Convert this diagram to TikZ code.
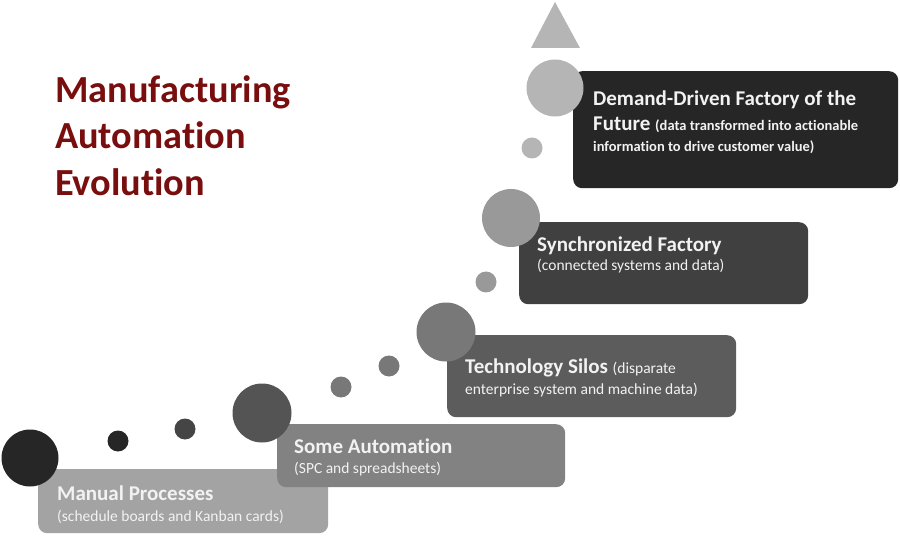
\documentclass[tikz,border=0pt]{standalone}
\usepackage{fontspec}
\setmainfont{Carlito}[Ligatures=NoCommon]
\usetikzlibrary{positioning}
\definecolor{titlered}{RGB}{120,14,14}
\definecolor{boxtext}{RGB}{242,242,242}
\newcommand{\subsize}{\fontsize{15.5}{19}\selectfont}
\newcommand{\smallbold}{\bfseries\fontsize{14.5}{18}\selectfont}

\begin{document}
\begin{tikzpicture}[x=1pt,y=-1pt,
    stagebox/.style={rounded corners=9pt,inner sep=0,anchor=north west},
    dot/.style={circle,inner sep=0},
    hd/.style={inner sep=0,anchor=base west,text=boxtext,font=\bfseries\fontsize{21}{25}\selectfont},
    sb/.style={inner sep=0,anchor=base west,text=boxtext,font=\subsize},
    ttl/.style={inner sep=0,anchor=base west,text=titlered,font=\bfseries\fontsize{38.3}{46}\selectfont}]
    \useasboundingbox (0,0) rectangle (900,540);
    % title
    \node[ttl] (ttla) at (55,103) {Manufacturing};
    \node[ttl] (ttlb) at (55,149) {Automation};
    \node[ttl] (ttlc) at (55,196) {Evolution};
    % stage boxes, lowest first
    \node[stagebox,fill=black!36,minimum width=290,minimum height=64] (manual) at (38,469) {};
    \node[stagebox,fill=black!49,minimum width=288,minimum height=63] (some) at (277,424) {};
    \node[stagebox,fill=black!64,minimum width=289,minimum height=82] (silos) at (447,335) {};
    \node[stagebox,fill=black!75,minimum width=289,minimum height=82] (sync) at (519,222) {};
    \node[stagebox,fill=black!85,minimum width=325,minimum height=117] (future) at (573,71) {};
    % dots and bubbles
    \node[dot,fill=black!85,minimum size=57] (ca) at (30,458) {};
    \node[dot,fill=black!85,minimum size=21] (da) at (118,441) {};
    \node[dot,fill=black!73,minimum size=21] (db) at (185,429) {};
    \node[dot,fill=black!67,minimum size=59] (cb) at (262,413) {};
    \node[dot,fill=black!53,minimum size=21] (dc) at (341,387) {};
    \node[dot,fill=black!53,minimum size=21] (dd) at (389,366) {};
    \node[dot,fill=black!53,minimum size=59] (cc) at (446,332) {};
    \node[dot,fill=black!40,minimum size=21] (de) at (486,282) {};
    \node[dot,fill=black!40,minimum size=58] (cd) at (511,218) {};
    \node[dot,fill=black!29,minimum size=21] (df) at (532,148) {};
    \node[dot,fill=black!29,minimum size=57] (ce) at (555,88) {};
    \coordinate (tip) at (555,2);
    \fill[black!29] (531,48) -- (tip) -- (580,48) -- cycle;
    % labels
    \node[hd] (manualhd) at ([xshift=19pt,yshift=-31pt]manual.north west) {Manual Processes};
    \node[sb] (manualsb) at ([yshift=-21pt]manualhd.base west) {(schedule boards and Kanban cards)};
    \node[hd] (somehd) at ([xshift=17pt,yshift=-29pt]some.north west) {Some Automation};
    \node[sb] (somesb) at ([yshift=-20pt]somehd.base west) {(SPC and spreadsheets)};
    \node[hd] (siloshd) at ([xshift=18pt,yshift=-38pt]silos.north west) {Technology Silos {\mdseries\subsize(disparate}};
    \node[sb] (silossb) at ([yshift=-21pt]siloshd.base west) {enterprise system and machine data)};
    \node[hd] (synchd) at ([xshift=18pt,yshift=-30pt]sync.north west) {Synchronized Factory};
    \node[sb] (syncsb) at ([yshift=-19pt]synchd.base west) {(connected systems and data)};
    \node[hd] (futurehd) at ([xshift=20pt,yshift=-35pt]future.north west) {Demand-Driven Factory of the};
    \node[hd] (futuremd) at ([yshift=-25pt]futurehd.base west) {Future {\smallbold(data transformed into actionable}};
    \node[hd,font=\smallbold] (futuresb) at ([yshift=-21pt]futuremd.base west) {information to drive customer value)};
\end{tikzpicture}
\end{document}
